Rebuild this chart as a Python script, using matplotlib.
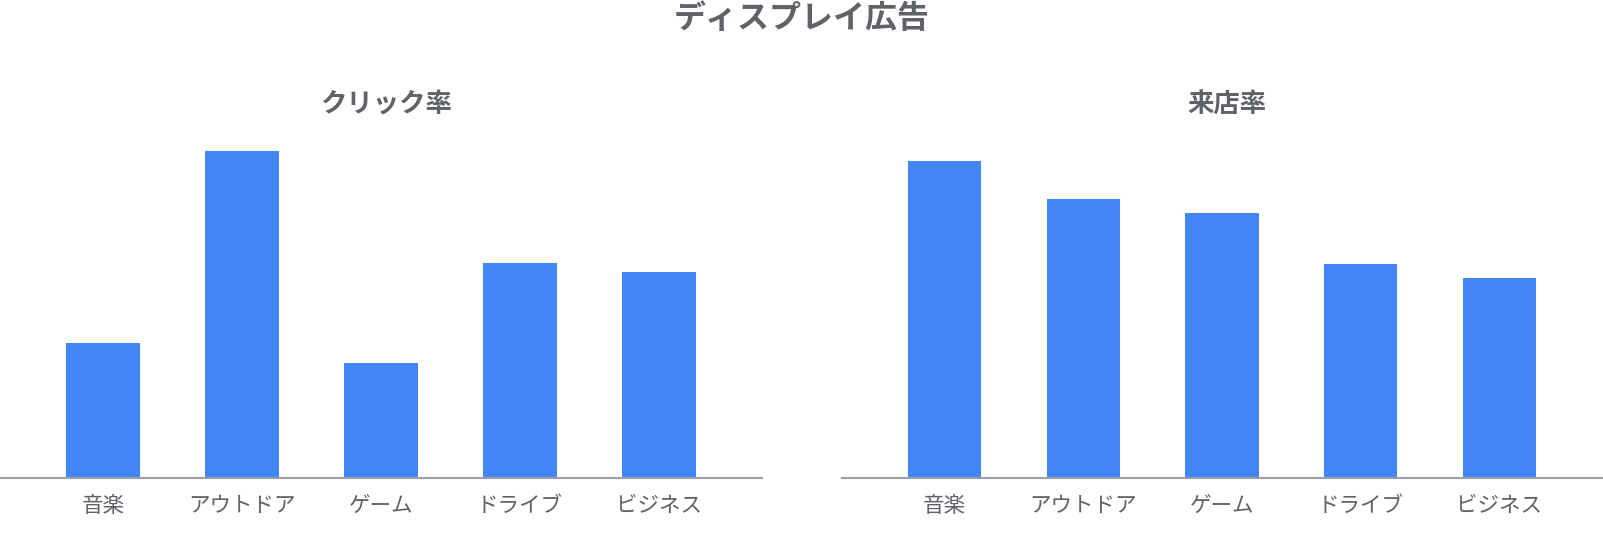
import matplotlib
matplotlib.use("Agg")
import matplotlib.pyplot as plt

plt.rcParams['font.family'] = ['Noto Sans CJK JP', 'DejaVu Sans']

categories = ["音楽", "アウトドア", "ゲーム", "ドライブ", "ビジネス"]
click_rate = [1.35, 3.27, 1.15, 2.15, 2.06]
visit_rate = [3.17, 2.79, 2.65, 2.14, 2.00]
main_title = "ディスプレイ広告"
panel_titles = ["クリック率", "来店率"]

BAR = "#4285F4"
TEXT = "#5f6368"
LINE = "#9aa0a6"

W, H = 1603, 540
fig = plt.figure(figsize=(W / 100, H / 100), dpi=100)

bottom = 62 / H
height = 338 / H
rects = [(0 / W, bottom, 762 / W, height), (842 / W, bottom, 760 / W, height)]

for rect, vals, ttl in zip(rects, [click_rate, visit_rate], panel_titles):
    ax = fig.add_axes(rect)
    x = list(range(len(categories)))
    ax.bar(x, vals, width=0.53, color=BAR, linewidth=0, zorder=2)
    ax.set_xlim(-0.74, len(categories) - 1 + 0.74)
    ax.set_ylim(0, 3.38)
    for s in ["top", "right", "left"]:
        ax.spines[s].set_visible(False)
    ax.spines["bottom"].set_color(LINE)
    ax.spines["bottom"].set_linewidth(1.5)
    ax.spines["bottom"].set_zorder(3)
    ax.set_yticks([])
    ax.set_xticks(x)
    ax.set_xticklabels(categories, fontsize=15.5, color=TEXT)
    ax.tick_params(axis="x", length=0, pad=12)
    ax.patch.set_alpha(0)
    fig.text(rect[0] + rect[2] / 2 + 5 / W, 1 - 104 / H, ttl, ha="center", va="center",
             fontsize=19, fontweight="bold", color=TEXT)

fig.text(0.5, 1 - 19 / H, main_title, ha="center", va="center",
         fontsize=23, fontweight="bold", color=TEXT)

fig.savefig("out.png", dpi=100)
